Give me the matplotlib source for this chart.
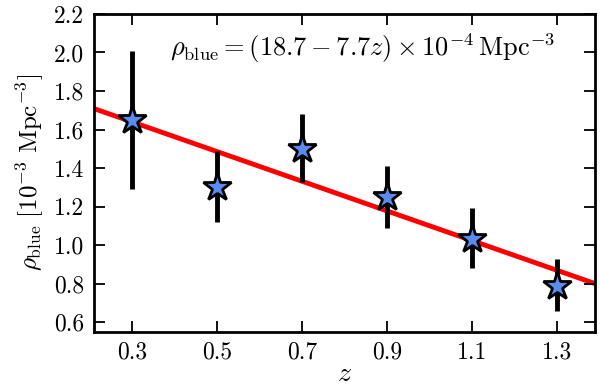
import numpy as np
import matplotlib
matplotlib.use("Agg")
import matplotlib.pyplot as plt

plt.rcParams['mathtext.fontset'] = 'cm'
plt.rcParams['font.family'] = 'serif'
plt.rcParams['font.serif'] = ['cmr10', 'DejaVu Serif']
plt.rcParams['axes.unicode_minus'] = False
plt.rcParams['axes.formatter.use_mathtext'] = True

# datos
z = [0.3, 0.5, 0.7, 0.9, 1.1, 1.3]
rho = [1.65, 1.30, 1.50, 1.25, 1.03, 0.79]
err_lo = [0.36, 0.18, 0.17, 0.16, 0.15, 0.13]
err_hi = [0.36, 0.19, 0.18, 0.16, 0.16, 0.14]

# ajuste lineal: (18.7 - 7.7 z) x 10^-4 -> unidades de 10^-3
fit_a = 1.87
fit_b = -0.77
xticks = [0.3, 0.5, 0.7, 0.9, 1.1, 1.3]
yticks = [0.6, 0.8, 1.0, 1.2, 1.4, 1.6, 1.8, 2.0, 2.2]

fig = plt.figure(figsize=(6.0, 3.88), dpi=100)
ax = fig.add_axes([0.157, 0.145, 0.835, 0.819])

zz = np.array([0.2, 1.4])
ax.plot(zz, fit_a + fit_b * zz, color='red', lw=3.5, zorder=1)
ax.errorbar(z, rho, yerr=[err_lo, err_hi], fmt='none', ecolor='black',
            elinewidth=3.5, capsize=0, zorder=2)
ax.plot(z, rho, '*', ms=21, mfc='#5a8cf0', mec='black', mew=2, zorder=3)

ax.text(0.152, 0.893,
        r'$\rho_{\rm blue} = (18.7 - 7.7z) \times 10^{-4}\,{\rm Mpc}^{-3}$',
        transform=ax.transAxes, ha='left', va='center', fontsize=19)

ax.set_xlim(0.21, 1.39)
ax.set_ylim(0.55, 2.2)
ax.set_xticks(xticks)
ax.set_yticks(yticks)
ax.set_xticklabels(['%.1f' % t for t in xticks])
ax.set_yticklabels(['%.1f' % t for t in yticks])
ax.tick_params(direction='in', top=True, right=True, length=8, width=1.3,
               labelsize=17, pad=7)
for s in ax.spines.values():
    s.set_linewidth(2)

ax.set_xlabel(r'$z$', fontsize=20, labelpad=-2)
ax.set_ylabel(r'$\rho_{\rm blue}\ [10^{-3}\ {\rm Mpc}^{-3}]$', fontsize=18,
              labelpad=6)

fig.savefig('out.png', dpi=100)
